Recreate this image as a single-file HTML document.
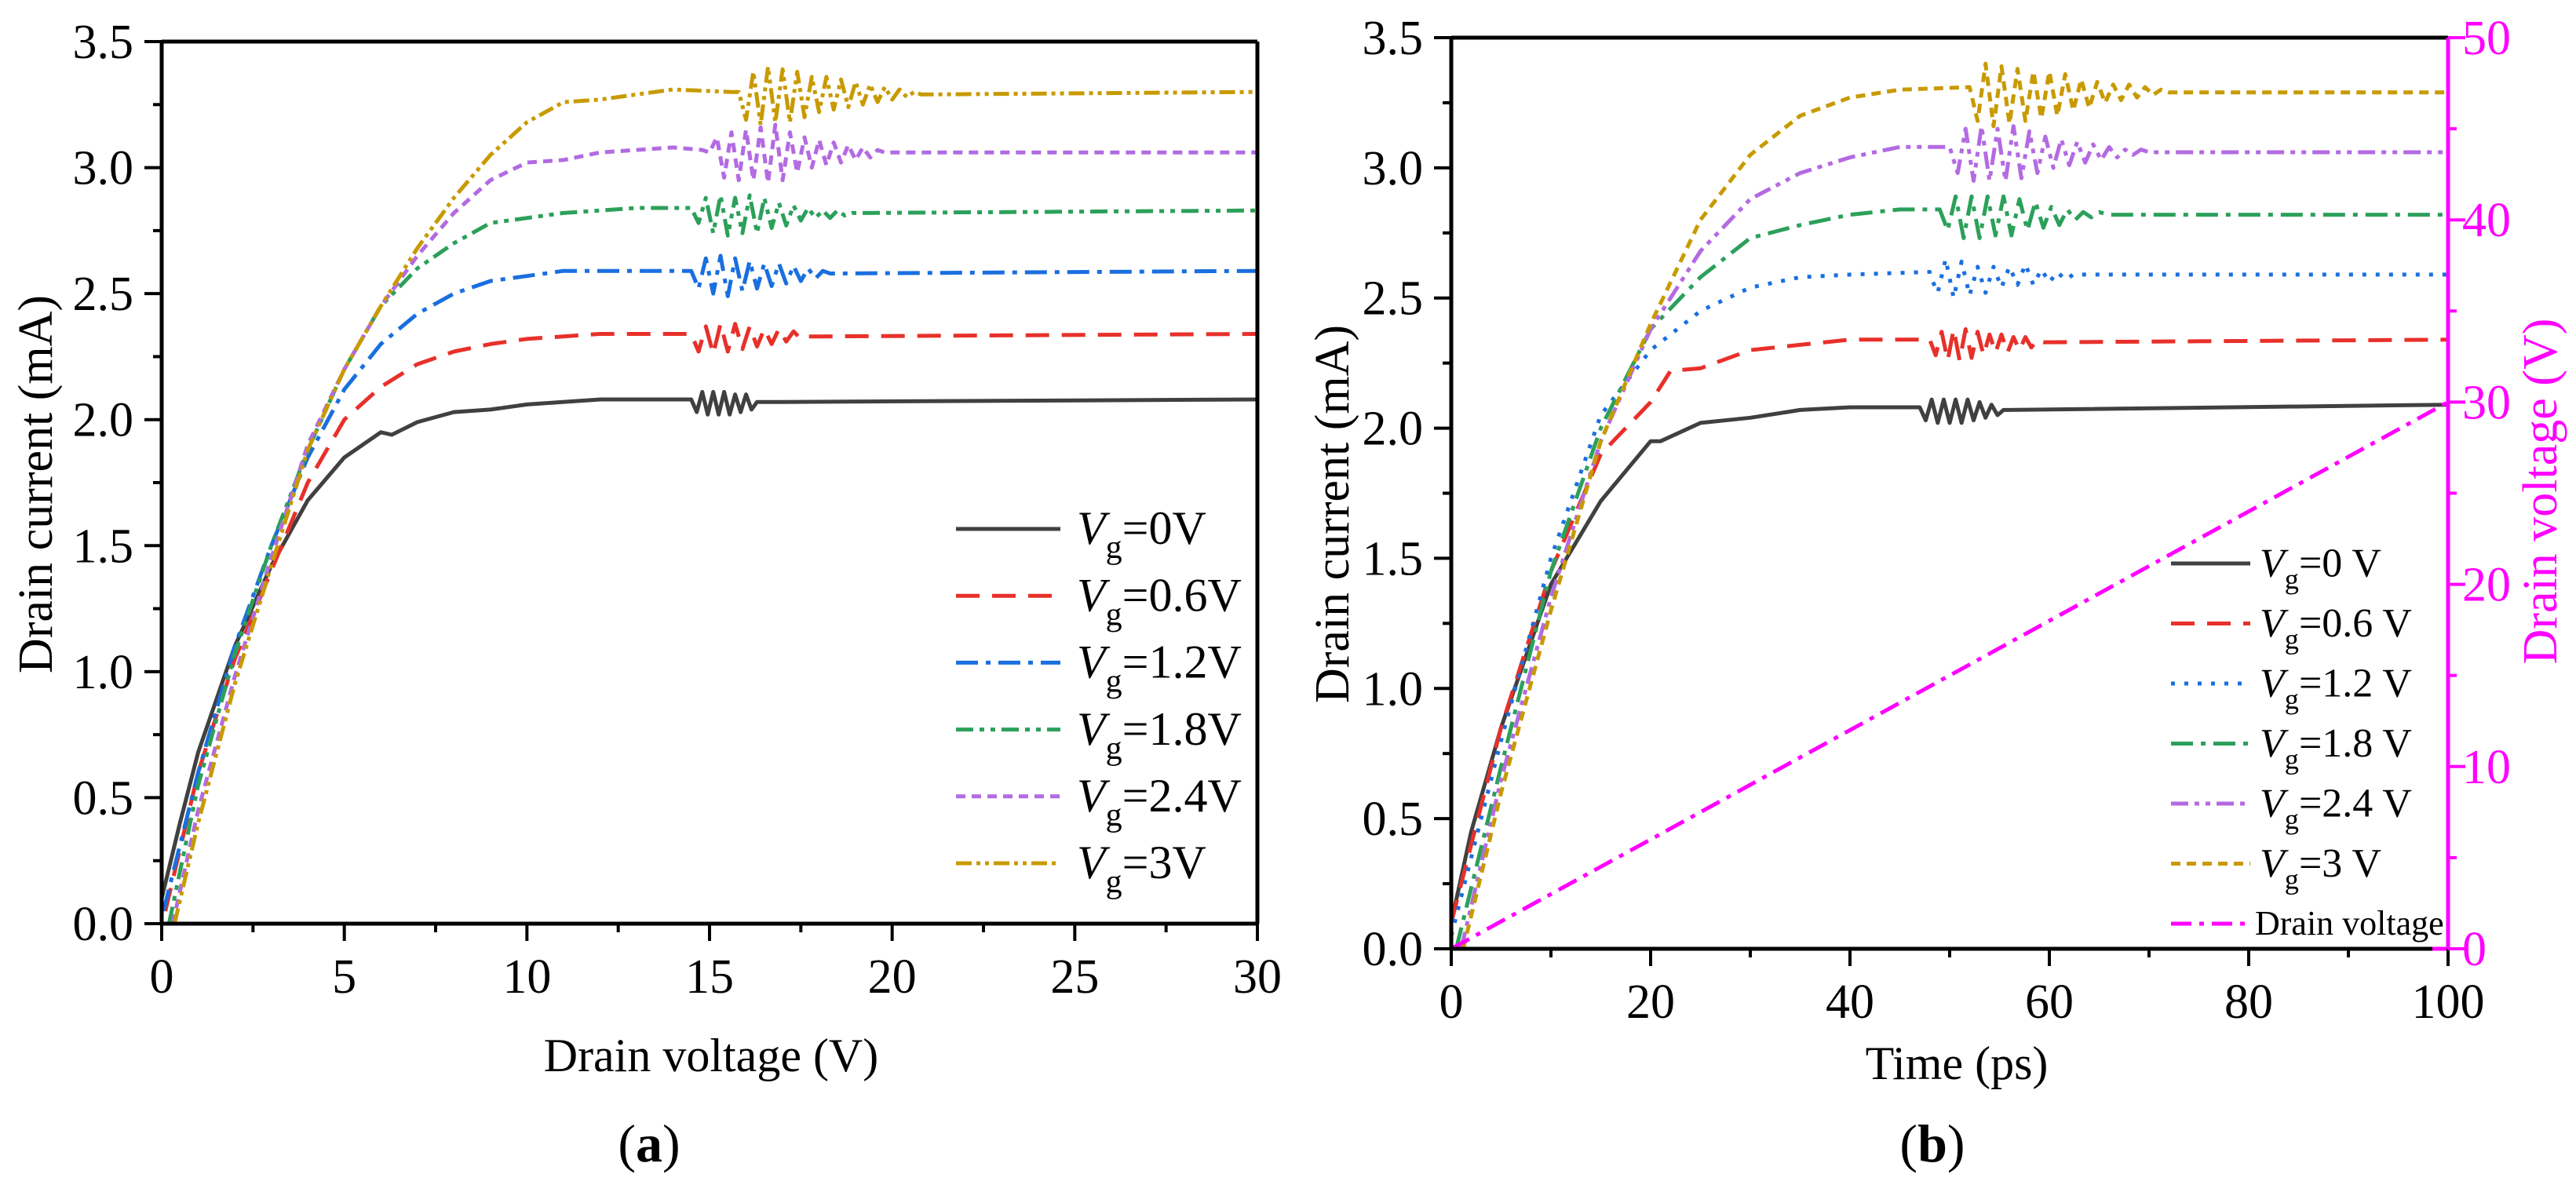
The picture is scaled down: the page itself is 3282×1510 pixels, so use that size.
<!DOCTYPE html>
<html><head><meta charset="utf-8">
<style>
html,body{margin:0;padding:0;background:#fff;}
svg{display:block;font-family:"Liberation Serif",serif;}
</style></head>
<body>
<svg id="fig" width="3282" height="1510" viewBox="0 0 3282 1510" xmlns="http://www.w3.org/2000/svg">
<g id="pa"></g>
<g id="pb"></g>
</svg>
<script>
// ---------- Panel (a) data: drain voltage (V) vs drain current (mA) ----------
const aNames = ["vg-0","vg-0.6","vg-1.2","vg-1.8","vg-2.4","vg-3"];
const aLabels = ["=0V","=0.6V","=1.2V","=1.8V","=2.4V","=3V"];
const aRise0 = [[0,0.1],[0.5,0.4],[1,0.68],[2,1.1],[3,1.42],[4,1.68],[5,1.85],[6,1.95],[6.3,1.94],[7,1.99],[8,2.03],[9,2.04],[10,2.06],[12,2.08],[14,2.08]];
const aRise1 = [[0.1,0.05],[1,0.6],[2,1.05],[3,1.4],[4,1.75],[5,2.0],[6,2.13],[7,2.22],[8,2.27],[9,2.3],[10,2.32],[12,2.34],[14,2.34]];
const aRise2 = [[0.05,0.05],[1,0.6],[2,1.1],[3,1.5],[4,1.85],[5,2.12],[6,2.3],[7,2.42],[8,2.5],[9,2.55],[10,2.57],[11,2.59],[14,2.59]];
const aRise3 = [[0.2,0],[1,0.55],[2,1.07],[3,1.5],[4,1.88],[5,2.2],[6,2.45],[7,2.6],[8,2.7],[9,2.78],[10,2.8],[11,2.82],[13,2.84],[14,2.84]];
const aRise4 = [[0.3,0],[1,0.45],[2,0.98],[3,1.45],[4,1.9],[5,2.2],[6,2.45],[7,2.65],[8,2.82],[9,2.95],[10,3.02],[11,3.03],[12,3.06],[14,3.08],[14.8,3.07]];
const aRise5 = [[0.35,0],[1,0.4],[2,0.95],[3,1.42],[4,1.88],[5,2.2],[6,2.45],[7,2.68],[8,2.88],[9,3.05],[10,3.18],[11,3.26],[12,3.27],[13,3.29],[14,3.31],[15.6,3.30]];
const aOscStart = [14.5,14.5,14.5,14.5,15.0,15.8];
const aOscStep = [0.15,0.2,0.2,0.2,0.2,0.2];
const aOsc0 = [2.08,2.03,2.11,2.02,2.11,2.02,2.11,2.02,2.10,2.03,2.10,2.04,2.07];
const aOsc1 = [2.34,2.27,2.37,2.26,2.38,2.27,2.38,2.28,2.37,2.29,2.36,2.30,2.36,2.31,2.35,2.32,2.33];
const aOsc2 = [2.59,2.52,2.64,2.50,2.65,2.49,2.64,2.51,2.63,2.52,2.62,2.53,2.62,2.54,2.61,2.55,2.60,2.56,2.59,2.58];
const aOsc3 = [2.84,2.78,2.88,2.74,2.89,2.73,2.88,2.74,2.89,2.74,2.88,2.76,2.86,2.77,2.85,2.79,2.84,2.80,2.83,2.80,2.83,2.81,2.82,2.82];
const aOsc4 = [3.06,3.12,2.96,3.14,2.95,3.15,2.95,3.16,2.94,3.17,2.95,3.14,2.98,3.12,3.00,3.11,3.01,3.10,3.02,3.09,3.03,3.08,3.04,3.07,3.06];
const aOsc5 = [3.30,3.19,3.38,3.17,3.40,3.18,3.39,3.18,3.38,3.20,3.36,3.22,3.36,3.23,3.35,3.24,3.34,3.25,3.33,3.26,3.32,3.27,3.31,3.28,3.30];
const aTail0 = [[17,2.07],[30,2.08]];
const aTail1 = [[18,2.33],[30,2.34]];
const aTail2 = [[18.5,2.58],[30,2.59]];
const aTail3 = [[19.3,2.82],[30,2.83]];
const aTail4 = [[20,3.06],[30,3.06]];
const aTail5 = [[20.8,3.29],[30,3.30]];
const aXTicks = [0,5,10,15,20,25,30];
const aYTicks = [0,0.5,1,1.5,2,2.5,3,3.5];

// ---------- Panel (b) data: time (ps) vs drain current (mA) ----------
const bNames = ["vg-0","vg-0.6","vg-1.2","vg-1.8","vg-2.4","vg-3"];
const bLabels = ["=0 V","=0.6 V","=1.2 V","=1.8 V","=2.4 V","=3 V"];
const bRise0 = [[0,0.1],[2,0.45],[5,0.85],[10,1.4],[15,1.72],[20,1.95],[21,1.95],[25,2.02],[30,2.04],[35,2.07],[40,2.08],[47,2.08]];
const bRise1 = [[0,0.1],[5,0.85],[10,1.45],[15,1.9],[20,2.1],[22,2.22],[25,2.23],[30,2.3],[35,2.32],[40,2.34],[48,2.34]];
const bRise2 = [[0,0.05],[5,0.8],[10,1.5],[15,2.05],[20,2.3],[25,2.45],[30,2.54],[35,2.58],[40,2.59],[48,2.6]];
const bRise3 = [[0.5,0],[5,0.7],[10,1.45],[15,2.0],[20,2.38],[25,2.58],[30,2.73],[35,2.78],[40,2.82],[45,2.84],[49,2.84]];
const bRise4 = [[1,0],[5,0.65],[10,1.35],[15,1.95],[20,2.38],[25,2.68],[30,2.88],[35,2.98],[40,3.04],[45,3.08],[50,3.08]];
const bRise5 = [[1.2,0],[5,0.6],[10,1.3],[15,1.95],[20,2.4],[25,2.8],[30,3.05],[35,3.2],[40,3.27],[45,3.3],[52,3.31]];
const bOscStart = [47,48,48,49,50,52];
const bOscStep = [0.6,0.6,0.8,0.8,0.8,0.8];
const bOsc0 = [2.08,2.03,2.11,2.02,2.11,2.02,2.11,2.02,2.11,2.03,2.10,2.04,2.09,2.05,2.07];
const bOsc1 = [2.34,2.28,2.37,2.26,2.38,2.26,2.38,2.27,2.37,2.28,2.36,2.29,2.36,2.29,2.35,2.30,2.35,2.31,2.34,2.33];
const bOsc2 = [2.59,2.52,2.65,2.50,2.64,2.51,2.62,2.52,2.62,2.54,2.62,2.55,2.63,2.55,2.61,2.56,2.60,2.57,2.59,2.59];
const bOsc3 = [2.84,2.76,2.89,2.73,2.89,2.73,2.89,2.74,2.89,2.74,2.88,2.76,2.87,2.77,2.85,2.78,2.84,2.80,2.83,2.81,2.83,2.82];
const bOsc4 = [3.08,2.98,3.15,2.95,3.16,2.95,3.15,2.95,3.16,2.96,3.14,2.98,3.12,3.00,3.11,3.01,3.10,3.02,3.09,3.03,3.08,3.04,3.07,3.05,3.07,3.06];
const bOsc5 = [3.31,3.18,3.40,3.16,3.39,3.17,3.38,3.18,3.37,3.19,3.37,3.20,3.36,3.22,3.34,3.23,3.33,3.25,3.32,3.26,3.32,3.27,3.31,3.28,3.30,3.29];
const bTail0 = [[56,2.07],[100,2.09]];
const bTail1 = [[60,2.33],[100,2.34]];
const bTail2 = [[64,2.59],[100,2.59]];
const bTail3 = [[67,2.82],[100,2.82]];
const bTail4 = [[71,3.06],[100,3.06]];
const bTail5 = [[73,3.29],[100,3.29]];
const bDrainT = [0,100];
const bDrainV = [0,30];
const bXTicks = [0,20,40,60,80,100];
const bYTicks = [0,0.5,1,1.5,2,2.5,3,3.5];
const bY2Ticks = [0,10,20,30,40,50];

const NS="http://www.w3.org/2000/svg";
function mk(parent,tag,attrs,text){const e=document.createElementNS(NS,tag);for(const k in attrs)e.setAttribute(k,attrs[k]);if(text!==undefined)e.textContent=text;parent.appendChild(e);return e;}

function buildSeries(rise,start,step,osc,tail){
  const pts=rise.slice();
  for(let i=0;i<osc.length;i++)pts.push([start+i*step,osc[i]]);
  return pts.concat(tail);
}

function drawPanel(g,cfg){
  const X=v=>cfg.x0+(v-cfg.xmin)/(cfg.xmax-cfg.xmin)*(cfg.x1-cfg.x0);
  const Y=v=>cfg.y0+(v-0)/(3.5)*(cfg.y1-cfg.y0);
  // series
  cfg.series.forEach((s,i)=>{
    const d=s.pts.map((p,j)=>(j?"L":"M")+X(p[0]).toFixed(1)+" "+Y(p[1]).toFixed(1)).join(" ");
    const p=mk(g,"path",{d:d,fill:"none",stroke:s.color,"stroke-width":5,"stroke-dasharray":s.dash,"stroke-linejoin":"round"});
    
    
  });
  if(cfg.drain){
    const Y2=v=>cfg.y0+v/50*(cfg.y1-cfg.y0);
    const p=mk(g,"path",{d:"M"+X(bDrainT[0])+" "+Y2(bDrainV[0])+" L"+X(bDrainT[1])+" "+Y2(bDrainV[1]),fill:"none",stroke:"#ff00ff","stroke-width":5,"stroke-dasharray":"26 10 6 10"});
    
    
  }
  // frame
  mk(g,"line",{x1:cfg.x0,y1:cfg.y1,x2:cfg.x1,y2:cfg.y1,stroke:"#000","stroke-width":5});
  mk(g,"line",{x1:cfg.x0,y1:cfg.y1,x2:cfg.x0,y2:cfg.y0,stroke:"#000","stroke-width":5});
  mk(g,"line",{x1:cfg.x1,y1:cfg.y1,x2:cfg.x1,y2:cfg.y0,stroke:cfg.drain?"#ff00ff":"#000","stroke-width":5});
  mk(g,"line",{x1:cfg.x0,y1:cfg.y0,x2:cfg.x1,y2:cfg.y0,stroke:"#000","stroke-width":5});
  if(cfg.drain) mk(g,"line",{x1:cfg.x1-20,y1:cfg.y0,x2:cfg.x1,y2:cfg.y0,stroke:"#ff00ff","stroke-width":5});
  // x ticks
  const xt=cfg.xticks;
  for(let i=0;i<xt.length;i++){
    mk(g,"line",{x1:X(xt[i]),y1:cfg.y0,x2:X(xt[i]),y2:cfg.y0+22,stroke:"#000","stroke-width":4});
    if(i<xt.length-1){const m=(xt[i]+xt[i+1])/2;mk(g,"line",{x1:X(m),y1:cfg.y0,x2:X(m),y2:cfg.y0+11,stroke:"#000","stroke-width":4});}
    const t=mk(g,"text",{x:X(xt[i]),y:cfg.y0+88,"font-size":62,"text-anchor":"middle"},xt[i]);
    
    
  }
  // y ticks
  const yt=cfg.yticks;
  for(let i=0;i<yt.length;i++){
    mk(g,"line",{x1:cfg.x0,y1:Y(yt[i]),x2:cfg.x0-22,y2:Y(yt[i]),stroke:"#000","stroke-width":4});
    if(i<yt.length-1){const m=(yt[i]+yt[i+1])/2;mk(g,"line",{x1:cfg.x0,y1:Y(m),x2:cfg.x0-11,y2:Y(m),stroke:"#000","stroke-width":4});}
    const t=mk(g,"text",{x:cfg.x0-36,y:Y(yt[i])+21,"font-size":62,"text-anchor":"end"},yt[i].toFixed(1));
    
    
  }
  if(cfg.drain){
    const Y2=v=>cfg.y0+v/50*(cfg.y1-cfg.y0);
    for(let i=0;i<bY2Ticks.length;i++){
      mk(g,"line",{x1:cfg.x1,y1:Y2(bY2Ticks[i]),x2:cfg.x1+22,y2:Y2(bY2Ticks[i]),stroke:"#ff00ff","stroke-width":4});
      if(i<bY2Ticks.length-1){const m=(bY2Ticks[i]+bY2Ticks[i+1])/2;mk(g,"line",{x1:cfg.x1,y1:Y2(m),x2:cfg.x1+11,y2:Y2(m),stroke:"#ff00ff","stroke-width":4});}
      const t=mk(g,"text",{x:cfg.x1+18,y:Y2(bY2Ticks[i])+21,"font-size":62,fill:"#ff00ff"},bY2Ticks[i]);
      
      
    }
  }
  // legend
  cfg.series.forEach((s,i)=>{
    const ly=cfg.legY+i*cfg.legDy;
    const l=mk(g,"line",{x1:cfg.legX0,y1:ly,x2:cfg.legX1,y2:ly,stroke:s.color,"stroke-width":5,"stroke-dasharray":s.dash});
    
    
    const t=mk(g,"text",{x:cfg.legTx,y:ly+cfg.legFs*0.32,"font-size":cfg.legFs});
    
    
    mk(t,"tspan",{"font-style":"italic"},"V");
    mk(t,"tspan",{dy:cfg.legFs*0.3,"font-size":cfg.legFs*0.7},"g");
    mk(t,"tspan",{dy:-cfg.legFs*0.3},s.label);
  });
  if(cfg.drain){
    const ly=cfg.legY+6*cfg.legDy;
    mk(g,"line",{x1:cfg.legX0,y1:ly,x2:cfg.legX1,y2:ly,stroke:"#ff00ff","stroke-width":5,"stroke-dasharray":"26 10 6 10"});
    const t=mk(g,"text",{x:cfg.legTx-6,y:ly+14,"font-size":44},"Drain voltage");
    
    
  }
}

const colors=["#404040","#e8302a","#1a6fdf","#2ca05a","#b36ae2","#c89a00"];
const aDash=["none","30 16","28 10 6 10","22 8 6 8 6 8","12 8","20 6 5 6 5 6"];
const bDash=["none","30 16","5 12","28 10 6 10","22 8 6 8 6 8","12 8"];
const aR=[aRise0,aRise1,aRise2,aRise3,aRise4,aRise5],aO=[aOsc0,aOsc1,aOsc2,aOsc3,aOsc4,aOsc5],aT=[aTail0,aTail1,aTail2,aTail3,aTail4,aTail5];
const bR=[bRise0,bRise1,bRise2,bRise3,bRise4,bRise5],bO=[bOsc0,bOsc1,bOsc2,bOsc3,bOsc4,bOsc5],bT=[bTail0,bTail1,bTail2,bTail3,bTail4,bTail5];

const ga=document.getElementById("pa"), gb=document.getElementById("pb");
drawPanel(ga,{x0:206,x1:1602,y0:1177,y1:53,xmin:0,xmax:30,xticks:aXTicks,yticks:aYTicks,
  series:aNames.map((n,i)=>({name:n,label:aLabels[i],color:colors[i],dash:aDash[i],pts:buildSeries(aR[i],aOscStart[i],aOscStep[i],aO[i],aT[i])})),
  legY:674,legDy:85.2,legX0:1218,legX1:1351,legTx:1372,legFs:60});
drawPanel(gb,{x0:1849,x1:3119,y0:1209,y1:48,xmin:0,xmax:100,xticks:bXTicks,yticks:bYTicks,drain:true,
  series:bNames.map((n,i)=>({name:n,label:bLabels[i],color:colors[i],dash:bDash[i],pts:buildSeries(bR[i],bOscStart[i],bOscStep[i],bO[i],bT[i])})),
  legY:718,legDy:76.5,legX0:2766,legX1:2867,legTx:2879,legFs:52});

// titles
function title(g,attrs,txt,name){const t=mk(g,"text",attrs,txt);return t;}
title(ga,{x:0,y:0,"font-size":62,"text-anchor":"middle",transform:"translate(66 617) rotate(-90)"},"Drain current (mA)","y-axis-title");
title(ga,{x:906,y:1365,"font-size":60,"text-anchor":"middle"},"Drain voltage (V)","x-axis-title");
const ca=title(ga,{x:827,y:1480,"font-size":68,"text-anchor":"middle"},"(","panel-label-a");
mk(ca,"tspan",{"font-weight":"bold"},"a");mk(ca,"tspan",{},")");
title(gb,{x:0,y:0,"font-size":62,"text-anchor":"middle",transform:"translate(1718 655) rotate(-90)"},"Drain current (mA)","y-axis-title");
title(gb,{x:0,y:0,"font-size":62,"text-anchor":"middle",fill:"#ff00ff",transform:"translate(3257 626) rotate(-90)"},"Drain voltage (V)","y2-axis-title");
title(gb,{x:2493,y:1375,"font-size":60,"text-anchor":"middle"},"Time (ps)","x-axis-title");
const cb=title(gb,{x:2462,y:1480,"font-size":68,"text-anchor":"middle"},"(","panel-label-b");
mk(cb,"tspan",{"font-weight":"bold"},"b");mk(cb,"tspan",{},")");
</script>
</body></html>
